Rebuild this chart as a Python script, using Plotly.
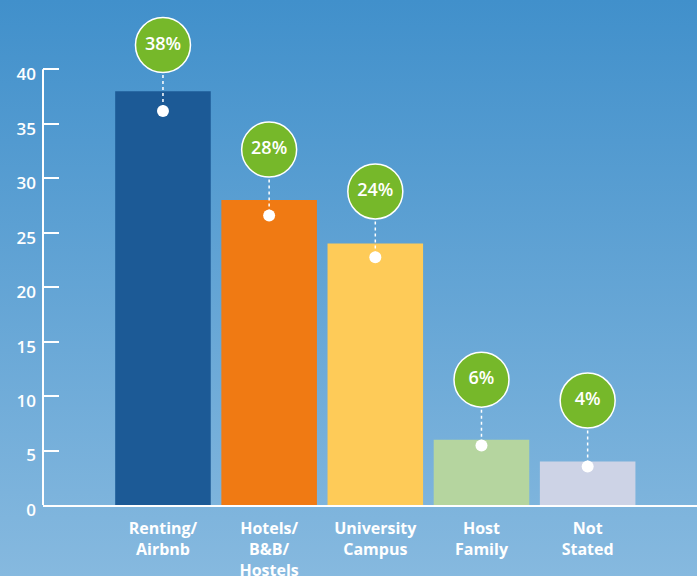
import plotly.graph_objects as go
import urllib.parse

categories = ["Renting/<br>Airbnb", "Hotels/<br>B&B/<br>Hostels", "University<br>Campus", "Host<br>Family", "Not<br>Stated"]
values = [38, 28, 24, 6, 4]
labels = ["38%", "28%", "24%", "6%", "4%"]
bar_colors = ["#1c5a96", "#f07a13", "#fecb58", "#b5d59f", "#cdd3e6"]
y_ticks = [0, 5, 10, 15, 20, 25, 30, 35, 40]

# styling: where the marker dot sits inside the bar and how far above it the bubble floats
DOT_SCALE, DOT_SHIFT = 0.96, -0.3
BUBBLE_ABOVE_DOT = 6.05
FONT = "Open Sans"
AXIS_TOP = 40
Y_MAX = 46

dot_y = [v * DOT_SCALE + DOT_SHIFT for v in values]
circle_y = [d + BUBBLE_ABOVE_DOT for d in dot_y]

line_x, line_y = [], []
for c, cy, dy in zip(categories, circle_y, dot_y):
    line_x += [c, c, None]
    line_y += [cy, dy, None]

fig = go.Figure()
fig.add_trace(go.Bar(x=categories, y=values, marker=dict(color=bar_colors, line=dict(width=0)),
                     hoverinfo="skip"))
fig.add_trace(go.Scatter(x=line_x, y=line_y, mode="lines", line=dict(color="white", width=1.5, dash="dot"),
                         cliponaxis=False, hoverinfo="skip"))
fig.add_trace(go.Scatter(x=categories, y=dot_y, mode="markers", marker=dict(color="white", size=12),
                         cliponaxis=False, hoverinfo="skip"))
fig.add_trace(go.Scatter(x=categories, y=circle_y, mode="markers+text", text=labels,
                         textposition="middle center",
                         textfont=dict(family=FONT, size=18, color="white", weight=600),
                         marker=dict(color="#76b82a", size=55, line=dict(color="white", width=1.5)),
                         cliponaxis=False, hoverinfo="skip"))

W, H = 697, 576
L, R, T, B = 43, 0, 4, 71
pw, ph = W - L - R, H - T - B

svg = ('<svg xmlns="http://www.w3.org/2000/svg" width="697" height="576" preserveAspectRatio="none">'
       '<defs><linearGradient id="g" x1="0" y1="0" x2="0" y2="1">'
       '<stop offset="0" stop-color="#4190cb"/><stop offset="1" stop-color="#86b9df"/>'
       '</linearGradient></defs><rect width="697" height="576" fill="url(#g)"/></svg>')
src = "data:image/svg+xml;charset=utf-8," + urllib.parse.quote(svg)

fig.update_layout(
    width=W, height=H,
    margin=dict(l=L, r=R, t=T, b=B, autoexpand=False),
    paper_bgcolor="#64a5d5",
    plot_bgcolor="rgba(0,0,0,0)",
    showlegend=False,
    bargap=0.1,
    images=[dict(source=src, xref="paper", yref="paper", x=-L / pw, y=1 + T / ph,
                 sizex=W / pw, sizey=H / ph, sizing="stretch", layer="below",
                 xanchor="left", yanchor="top")],
    shapes=[dict(type="line", xref="paper", yref="y", x0=0, x1=0, y0=0, y1=AXIS_TOP,
                 line=dict(color="white", width=2), layer="above")],
    xaxis=dict(type="category", range=[-1.13, 5.03], showline=True, linecolor="white", linewidth=2,
               showgrid=False, zeroline=False, ticks="", fixedrange=True, ticklabelstandoff=8,
               automargin=False,
               tickfont=dict(family=FONT, size=16, color="white", weight=700)),
    yaxis=dict(range=[0, Y_MAX], tickvals=y_ticks, showline=False, automargin=False,
               ticks="inside", ticklen=16, tickwidth=2, tickcolor="white",
               showgrid=False, zeroline=False, ticklabelshift=5, ticklabelstandoff=6,
               tickfont=dict(family=FONT, size=17, color="white", weight=600)),
)

fig.write_html("out.html", config={"displayModeBar": False},
               post_script="document.body.style.margin='0';document.body.style.overflow='hidden';")
